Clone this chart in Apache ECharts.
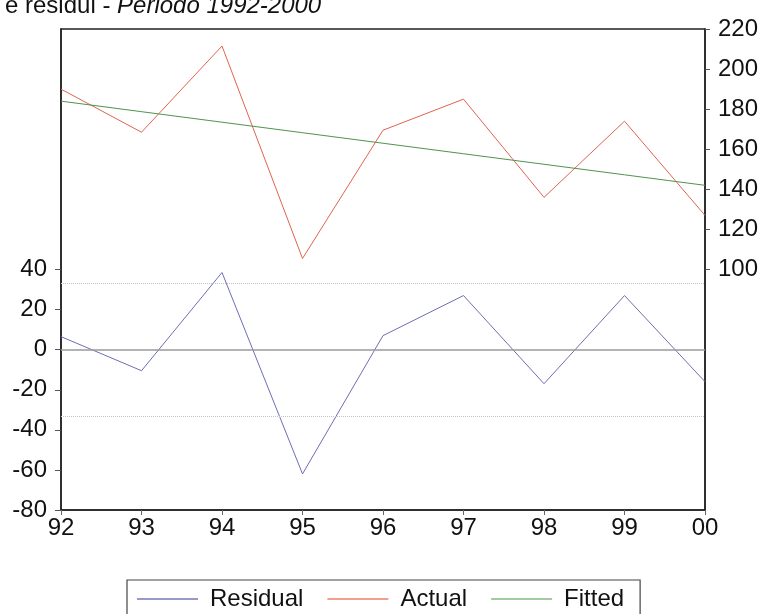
<!DOCTYPE html>
<html>
<head>
<meta charset="utf-8">
<script src="https://cdn.jsdelivr.net/npm/echarts@6/dist/echarts.min.js"></script>
<style>
  html, body { margin: 0; padding: 0; background: #fff; }
  #chart { width: 763px; height: 614px; }
</style>
</head>
<body>
<div id="chart"></div>
<script>
const categories = ['92', '93', '94', '95', '96', '97', '98', '99', '00'];
const residual = [6.5, -10.5, 38.5, -62, 7, 27, -17, 27, -16];
const actual = [190, 168.5, 211.5, 105.5, 169.5, 185, 136, 174, 127];
const fitted = [184, 178.75, 173.5, 168.25, 163, 157.75, 152.5, 147.25, 142];
const leftTicks = [-80, -60, -40, -20, 0, 20, 40];
const rightTicks = [100, 120, 140, 160, 180, 200, 220];
const residualBand = 33;

const FONT = '"Liberation Sans", Arial, sans-serif';
const chart = echarts.init(document.getElementById('chart'));

chart.setOption({
  backgroundColor: '#fff',
  animation: false,
  textStyle: { fontFamily: FONT },
  title: {
    text: '{n|e residui - }{i|Periodo 1992-2000}',
    left: 5,
    top: -6,
    padding: 0,
    textStyle: {
      fontWeight: 'normal',
      rich: {
        n: { fontSize: 24, fontFamily: FONT, fontWeight: 'normal', color: '#111' },
        i: { fontSize: 24, fontFamily: FONT, fontWeight: 'normal', fontStyle: 'italic', color: '#111' }
      }
    }
  },
  grid: {
    left: 61, right: 58, top: 29, bottom: 104,
    show: true, borderColor: '#222', borderWidth: 1.5, backgroundColor: 'transparent'
  },
  legend: {
    left: 127, top: 580,
    padding: [7, 16, 7, 10],
    borderColor: '#444', borderWidth: 1.2,
    itemWidth: 61, itemHeight: 1.5, itemGap: 24,
    icon: 'rect',
    textStyle: { fontSize: 24, fontFamily: FONT, color: '#111', padding: [0, 0, 0, 7] },
    data: ['Residual', 'Actual', 'Fitted']
  },
  xAxis: {
    type: 'category',
    data: categories,
    boundaryGap: false,
    axisLine: { onZero: false, lineStyle: { color: '#222', width: 1.5 } },
    axisTick: { show: true, length: 5, lineStyle: { color: '#666' } },
    axisLabel: { fontSize: 24, color: '#111', margin: 6, fontFamily: FONT },
    splitLine: { show: false }
  },
  yAxis: [
    {
      type: 'value', min: -80, max: 160, position: 'left',
      axisLine: { show: true, lineStyle: { color: '#222', width: 1.5 } },
      axisTick: { show: true, length: 6, customValues: leftTicks, lineStyle: { color: '#555' } },
      axisLabel: { fontSize: 24, color: '#111', margin: 14, customValues: leftTicks, fontFamily: FONT },
      splitLine: { show: false }
    },
    {
      type: 'value', min: -20, max: 220, position: 'right',
      axisLine: { show: true, lineStyle: { color: '#222', width: 1.5 } },
      axisTick: { show: true, length: 5, customValues: rightTicks, lineStyle: { color: '#555' } },
      axisLabel: { fontSize: 24, color: '#111', margin: 13, customValues: rightTicks, fontFamily: FONT },
      splitLine: { show: false }
    }
  ],
  series: [
    {
      name: 'Residual', type: 'line', yAxisIndex: 0, data: residual,
      symbol: 'none', color: '#7676bc',
      lineStyle: { width: 1, color: '#6e6eb4' },
      markLine: {
        silent: true, symbol: 'none', label: { show: false },
        data: [
          { yAxis: 0, lineStyle: { color: '#9a9a9a', width: 1.5, type: 'solid' } },
          { yAxis: residualBand, lineStyle: { color: '#c4c4c4', width: 1, type: 'dotted' } },
          { yAxis: -residualBand, lineStyle: { color: '#c4c4c4', width: 1, type: 'dotted' } }
        ]
      },
      z: 3
    },
    {
      name: 'Actual', type: 'line', yAxisIndex: 1, data: actual,
      symbol: 'none', color: '#e8826a',
      lineStyle: { width: 1, color: '#e0644e' }
    },
    {
      name: 'Fitted', type: 'line', yAxisIndex: 1, data: fitted,
      symbol: 'none', color: '#86b886',
      lineStyle: { width: 1, color: '#4e944e' }
    }
  ]
});
</script>
</body>
</html>
